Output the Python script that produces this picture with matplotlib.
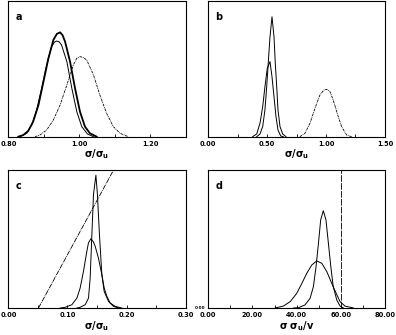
import matplotlib
matplotlib.use('Agg')
import matplotlib.pyplot as plt
from matplotlib.ticker import MultipleLocator

plt.rcParams['font.family'] = ['DejaVu Sans']

# panel a
a1_x = [0.828, 0.842, 0.856, 0.870, 0.885, 0.899, 0.913, 0.927, 0.937, 0.946, 0.953, 0.960, 0.974, 0.988, 1.002, 1.016, 1.030, 1.049]
a1_y = [0.0, 0.012, 0.042, 0.111, 0.234, 0.405, 0.578, 0.713, 0.758, 0.769, 0.748, 0.700, 0.553, 0.357, 0.184, 0.074, 0.025, 0.0]
a2_x = [0.833, 0.852, 0.866, 0.880, 0.894, 0.908, 0.922, 0.930, 0.936, 0.943, 0.950, 0.965, 0.979, 0.993, 1.007, 1.023, 1.040]
a2_y = [0.0, 0.025, 0.086, 0.197, 0.357, 0.528, 0.663, 0.697, 0.705, 0.700, 0.676, 0.553, 0.357, 0.184, 0.074, 0.020, 0.0]
a3_x = [0.875, 0.889, 0.908, 0.927, 0.946, 0.965, 0.983, 0.993, 1.002, 1.011, 1.021, 1.040, 1.058, 1.077, 1.096, 1.115, 1.138]
a3_y = [0.0, 0.012, 0.049, 0.123, 0.234, 0.381, 0.528, 0.578, 0.590, 0.584, 0.565, 0.455, 0.307, 0.172, 0.074, 0.025, 0.0]

# panel b
b1_x = [0.411, 0.439, 0.462, 0.481, 0.496, 0.509, 0.524, 0.541, 0.558, 0.569, 0.581, 0.592, 0.609, 0.632, 0.660]
b1_y = [0.0, 0.020, 0.074, 0.197, 0.368, 0.541, 0.737, 0.884, 0.737, 0.541, 0.368, 0.197, 0.074, 0.020, 0.0]
b2_x = [0.377, 0.411, 0.439, 0.462, 0.481, 0.501, 0.524, 0.541, 0.558, 0.575, 0.592, 0.615, 0.637]
b2_y = [0.0, 0.020, 0.099, 0.221, 0.368, 0.504, 0.553, 0.442, 0.295, 0.147, 0.049, 0.005, 0.0]
b3_x = [0.778, 0.821, 0.863, 0.906, 0.948, 0.982, 1.005, 1.033, 1.061, 1.095, 1.132, 1.175, 1.217]
b3_y = [0.0, 0.025, 0.098, 0.209, 0.307, 0.344, 0.349, 0.332, 0.270, 0.172, 0.074, 0.012, 0.0]

# panel c
c1_x = [0.116, 0.1215, 0.130, 0.1356, 0.1384, 0.1413, 0.1440, 0.1481, 0.1507, 0.1541, 0.1582, 0.1621, 0.1693, 0.1778, 0.1862]
c1_y = [0.0, 0.005, 0.024, 0.072, 0.217, 0.531, 0.821, 0.962, 0.821, 0.531, 0.241, 0.120, 0.049, 0.012, 0.0]
c2_x = [0.0878, 0.0962, 0.1075, 0.1160, 0.1215, 0.1271, 0.1328, 0.1355, 0.1396, 0.1440, 0.1469, 0.1524, 0.1582, 0.1621, 0.1666, 0.1722, 0.1806, 0.1919]
c2_y = [0.0, 0.005, 0.024, 0.072, 0.145, 0.266, 0.411, 0.471, 0.502, 0.478, 0.447, 0.362, 0.241, 0.145, 0.085, 0.036, 0.012, 0.0]
c3_x = [0.051, 0.178]
c3_y = [0.0, 1.0]

# panel d
d1_x = [38.6, 40.8, 43.8, 46.1, 47.6, 48.8, 49.9, 50.9, 52.1, 53.3, 54.4, 55.5, 56.6, 58.2, 59.7, 61.2]
d1_y = [0.0, 0.002, 0.022, 0.070, 0.154, 0.299, 0.469, 0.638, 0.705, 0.638, 0.469, 0.299, 0.154, 0.058, 0.014, 0.0]
d2_x = [30.3, 34.0, 37.1, 40.1, 42.4, 44.6, 46.9, 49.1, 51.4, 53.7, 55.9, 57.9, 59.7, 61.9, 65.7]
d2_y = [0.0, 0.014, 0.046, 0.107, 0.179, 0.251, 0.312, 0.341, 0.324, 0.263, 0.179, 0.107, 0.046, 0.014, 0.0]
d_vline = 60.0

panels = [
    ('a', [0.021, 0.592, 0.448, 0.405], (0.8, 1.3), 0.2, 0.1, '%.2f', r'$\mathregular{σ/σ_u}$'),
    ('b', [0.526, 0.592, 0.446, 0.405], (0.0, 1.5), 0.5, 0.25, '%.2f', r'$\mathregular{σ/σ_u}$'),
    ('c', [0.021, 0.0806, 0.448, 0.412], (0.0, 0.3), 0.1, 0.05, '%.2f', r'$\mathregular{σ/σ_u}$'),
    ('d', [0.526, 0.0806, 0.446, 0.412], (0.0, 80.0), 20.0, 10.0, '%.2f', r'$\mathregular{σ\ σ_u/v}$'),
]

fig = plt.figure(figsize=(3.96, 3.35), dpi=100)
axes = {}
for name, pos, xlim, major, minor, fmt, xlabel in panels:
    ax = fig.add_axes(pos)
    ax.set_xlim(*xlim)
    ax.set_ylim(0, 1.0)
    ax.xaxis.set_major_locator(MultipleLocator(major))
    ax.xaxis.set_minor_locator(MultipleLocator(minor))
    ax.xaxis.set_major_formatter(matplotlib.ticker.FormatStrFormatter(fmt))
    ax.set_yticks([])
    ax.tick_params(axis='x', which='both', direction='in', length=2.2, width=0.6,
                   labelsize=4.8, pad=3, top=False)
    for lbl in ax.get_xticklabels():
        lbl.set_fontweight('bold')
    for s in ax.spines.values():
        s.set_linewidth(0.8)
    ax.set_xlabel(xlabel, fontsize=7, fontweight='bold', labelpad=0.5)
    ax.text(0.04, 0.86, name, transform=ax.transAxes, fontsize=7, fontweight='bold')
    axes[name] = ax

ax = axes['a']
ax.plot(a1_x, a1_y, color='black', lw=1.3)
ax.plot(a2_x, a2_y, color='black', lw=0.7)
ax.plot(a3_x, a3_y, color='black', lw=0.6, linestyle=(0, (3, 1, 1, 1)))

ax = axes['b']
ax.plot(b1_x, b1_y, color='black', lw=0.7)
ax.plot(b2_x, b2_y, color='black', lw=0.7)
ax.plot(b3_x, b3_y, color='black', lw=0.6, linestyle=(0, (3, 1, 1, 1)))

ax = axes['c']
ax.plot(c1_x, c1_y, color='black', lw=0.7)
ax.plot(c2_x, c2_y, color='black', lw=0.7)
ax.plot(c3_x, c3_y, color='black', lw=0.6, linestyle=(0, (6, 1, 1, 1)))

ax = axes['d']
ax.plot(d1_x, d1_y, color='black', lw=0.7)
ax.plot(d2_x, d2_y, color='black', lw=0.7)
ax.axvline(d_vline, color='black', lw=0.6, linestyle=(0, (8, 1.5)))
ax.text(-0.015, 0.0, '0.00', transform=ax.transAxes, fontsize=3, fontweight='bold',
        ha='right', va='center')

fig.savefig('out.png', dpi=100)
